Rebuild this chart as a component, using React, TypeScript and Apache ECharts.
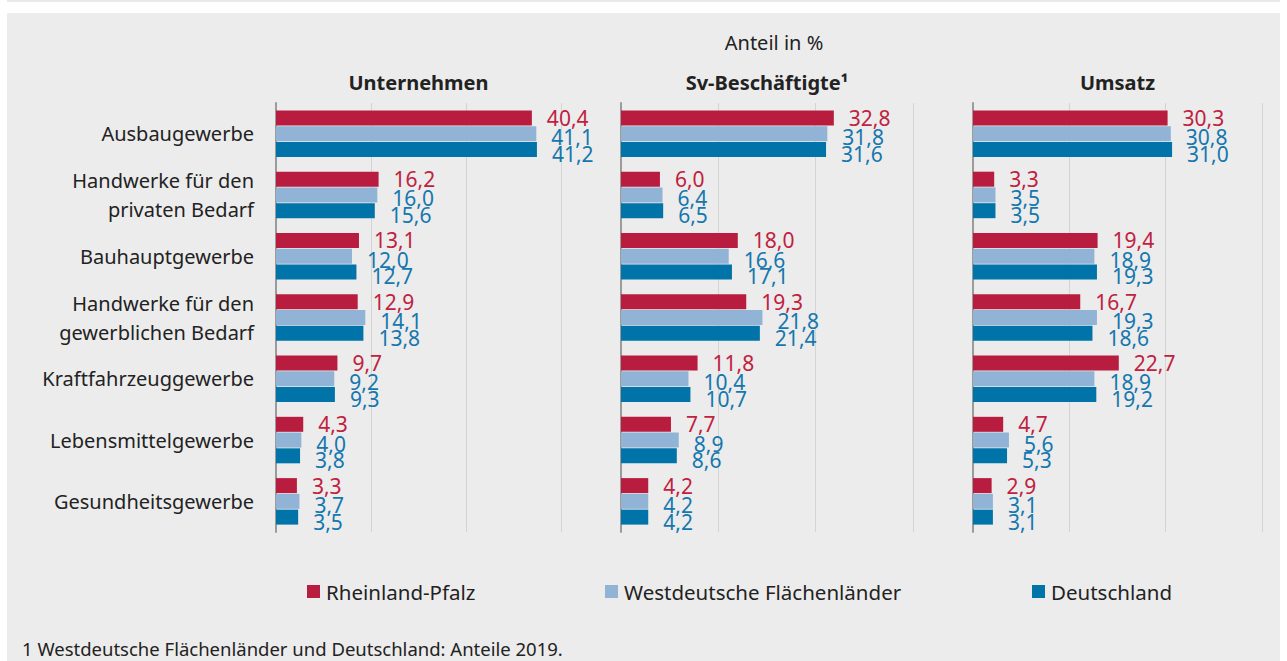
import React, { useEffect, useRef } from "react";
import * as echarts from "echarts";

const categories = [
  "Ausbaugewerbe",
  "Handwerke für den\nprivaten Bedarf",
  "Bauhauptgewerbe",
  "Handwerke für den\ngewerblichen Bedarf",
  "Kraftfahrzeuggewerbe",
  "Lebensmittelgewerbe",
  "Gesundheitsgewerbe",
];

const seriesNames = ["Rheinland-Pfalz", "Westdeutsche Flächenländer", "Deutschland"];
const panelTitles = ["Unternehmen", "Sv-Beschäftigte¹", "Umsatz"];

// Unternehmen
const unternehmenRP = [40.4, 16.2, 13.1, 12.9, 9.7, 4.3, 3.3];
const unternehmenWD = [41.1, 16.0, 12.0, 14.1, 9.2, 4.0, 3.7];
const unternehmenDE = [41.2, 15.6, 12.7, 13.8, 9.3, 3.8, 3.5];
// Sv-Beschäftigte
const svRP = [32.8, 6.0, 18.0, 19.3, 11.8, 7.7, 4.2];
const svWD = [31.8, 6.4, 16.6, 21.8, 10.4, 8.9, 4.2];
const svDE = [31.6, 6.5, 17.1, 21.4, 10.7, 8.6, 4.2];
// Umsatz
const umsatzRP = [30.3, 3.3, 19.4, 16.7, 22.7, 4.7, 2.9];
const umsatzWD = [30.8, 3.5, 18.9, 19.3, 18.9, 5.6, 3.1];
const umsatzDE = [31.0, 3.5, 19.3, 18.6, 19.2, 5.3, 3.1];

const headline = "Anteil in %";
const footnote = "1 Westdeutsche Flächenländer und Deutschland: Anteile 2019.";

const FONT = "'Noto Sans', sans-serif";
const barColors = ["#B81D3F", "#91B3D6", "#0073A8"];
const labelColors = ["#C0213F", "#1577AE", "#1577AE"];
const labelOffsets = [[0, 0], [0, 3.5], [0, 4.5]];

const panels = [
  { left: 276, width: 285, data: [unternehmenRP, unternehmenWD, unternehmenDE] },
  { left: 621, width: 292, data: [svRP, svWD, svDE] },
  { left: 973, width: 289, data: [umsatzRP, umsatzWD, umsatzDE] },
];

const GRID_TOP = 103;
const GRID_HEIGHT = 429;

export default function App() {
  const ref = useRef<HTMLDivElement>(null);

  useEffect(() => {
    document.body.style.margin = "0";
    const chart = echarts.init(ref.current!, null, { renderer: "svg" });

    const grids = panels.map((p) => ({
      left: p.left,
      width: p.width,
      top: GRID_TOP,
      height: GRID_HEIGHT,
      containLabel: false,
    }));

    const xAxes = panels.map((_, i) => ({
      type: "value",
      gridIndex: i,
      min: 0,
      max: 45,
      interval: 15,
      axisLabel: { show: false },
      axisLine: { show: false },
      axisTick: { show: false },
      splitLine: { show: true, lineStyle: { color: "#d4d4d4", width: 1 } },
    }));

    const yAxes = panels.map((_, i) => ({
      type: "category",
      gridIndex: i,
      inverse: true,
      data: categories,
      axisLine: { show: true, lineStyle: { color: "#9b9b9b", width: 2 } },
      axisTick: { show: false },
      axisLabel: {
        show: i === 0,
        fontFamily: FONT,
        fontSize: 20,
        color: "#222",
        margin: 22,
        lineHeight: 29,
        align: "right",
      },
    }));

    const series: any[] = [];
    panels.forEach((p, pi) => {
      p.data.forEach((vals, si) => {
        series.push({
          type: "bar",
          name: seriesNames[si],
          xAxisIndex: pi,
          yAxisIndex: pi,
          data: vals,
          barWidth: 15,
          barGap: "5%",
          itemStyle: { color: barColors[si] },
          label: {
            show: true,
            position: "right",
            distance: 15,
            offset: labelOffsets[si],
            fontFamily: FONT,
            fontSize: 21,
            color: labelColors[si],
            formatter: (d: any) => d.value.toFixed(1).replace(".", ","),
          },
        });
      });
    });

    const legendLefts = [307, 605, 1032];
    const legends = seriesNames.map((n, i) => ({
      data: [n],
      left: legendLefts[i],
      top: 581,
      padding: 0,
      icon: "rect",
      itemWidth: 13,
      itemHeight: 13,
      itemGap: 0,
      selectedMode: false,
      textStyle: { fontFamily: FONT, fontSize: 20.5, color: "#222", padding: [0, 0, 0, 1] },
    }));

    const graphics: any[] = [
      { type: "rect", z: -10, shape: { x: 7, y: 0, width: 1273, height: 2 }, style: { fill: "#e9e9e9" } },
      { type: "rect", z: -10, shape: { x: 7, y: 13, width: 1273, height: 648 }, style: { fill: "#ececec" } },
      {
        type: "text",
        x: 774,
        y: 42,
        style: { text: headline, fontFamily: FONT, fontSize: 20, fill: "#222", align: "center", verticalAlign: "middle" },
      },
      ...panels.map((p, i) => ({
        type: "text",
        x: p.left + p.width / 2,
        y: 82,
        style: {
          text: panelTitles[i],
          fontFamily: FONT,
          fontSize: 20,
          fontWeight: "bold",
          fill: "#222",
          align: "center",
          verticalAlign: "middle",
        },
      })),
      {
        type: "text",
        x: 22,
        y: 648,
        style: { text: footnote, fontFamily: FONT, fontSize: 18.5, fill: "#222", align: "left", verticalAlign: "middle" },
      },
    ];

    chart.setOption({
      animation: false,
      backgroundColor: "#ffffff",
      grid: grids,
      xAxis: xAxes,
      yAxis: yAxes,
      series,
      legend: legends,
      graphic: graphics,
    });

    return () => chart.dispose();
  }, []);

  return <div ref={ref} style={{ position: "absolute", left: 0, top: 0, width: 1287, height: 661 }} />;
}
